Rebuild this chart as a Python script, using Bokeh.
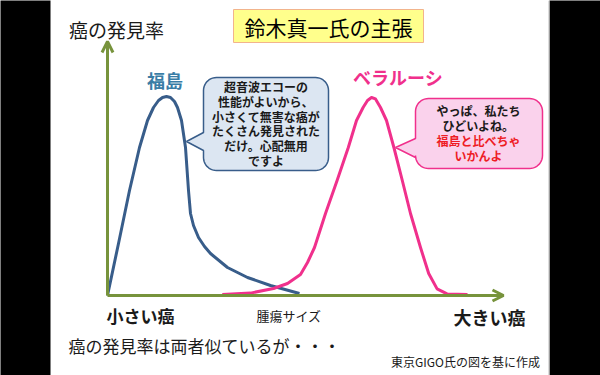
import math
from bokeh.plotting import figure
from bokeh.models import Range1d, Label, Arrow, OpenHead
from bokeh.embed import file_html
from bokeh.resources import INLINE

# ---- data (tumour size in arbitrary units, detection rate in %) ----
fukushima_size = [0.0, 0.275, 0.55, 0.8, 1.0, 1.15, 1.275, 1.375, 1.475, 1.575, 1.675,
                  1.75, 1.85, 1.95, 2.025, 2.075, 2.15, 2.275, 2.425, 2.575, 3.0, 3.5, 4.075, 4.8]
fukushima_rate = [0.0, 26.0, 52.5, 74.0, 87.5, 94.0, 97.5, 99.0, 99.5, 99.0, 97.0,
                  94.0, 87.5, 74.0, 52.5, 41.0, 35.0, 29.0, 24.5, 21.0, 14.0, 9.0, 5.0, 1.0]
belarus_size = [2.87, 3.575, 4.15, 4.5, 4.825, 5.0, 5.175, 5.45, 5.74, 6.02, 6.225, 6.39, 6.5,
                6.6, 6.7, 6.825, 6.975, 7.16, 7.37, 7.575, 7.825, 8.03, 8.24, 8.49, 9.0]
belarus_rate = [0.5, 1.2, 3.5, 6.0, 10.5, 16.5, 24.0, 41.0, 57.5, 74.0, 87.5, 94.0, 97.5,
                99.0, 98.3, 94.0, 87.5, 74.0, 57.5, 41.0, 24.0, 11.0, 3.3, 0.8, 0.5]

title_text = "鈴木真一氏の主張"
y_axis_label = "癌の発見率"
x_axis_label = "腫瘍サイズ"
x_left_label = "小さい癌"
x_right_label = "大きい癌"
series_names = ["福島", "ベラルーシ"]
left_bubble_lines = ["超音波エコーの", "性能がよいから、", "小さくて無害な癌が",
                     "たくさん発見された", "だけ。心配無用", "ですよ"]
right_bubble_lines = ["やっぱ、私たち", "ひどいよね。", "福島と比べちゃ", "いかんよ"]
right_bubble_red = [False, False, True, True]
bottom_text = "癌の発見率は両者似ているが・・・"
credit_text = "東京GIGO氏の図を基に作成"

FONT = "Noto Sans CJK JP"
BLUE = "#385D8A"
PINK = "#F0308C"
AXIS = "#77933C"


# reference-pixel -> data helpers (layout only)
def X(px):
    return (px - 107) / 40.0


def Y(py):
    return (295 - py) / 2.0


p = figure(width=600, height=375, x_range=Range1d(X(0), X(600)),
           y_range=Range1d(Y(375), Y(0)), output_backend="svg",
           toolbar_location=None, x_axis_location=None, y_axis_location=None,
           min_border=0)
p.grid.visible = False
p.outline_line_color = None
p.background_fill_color = "white"
p.border_fill_color = "white"

# black side bars
p.quad(left=[X(-5), X(549)], right=[X(50), X(605)], bottom=[Y(380)] * 2, top=[Y(-5)] * 2,
       fill_color="black", line_color=None)
p.segment(x0=[X(548.5)], y0=[Y(0)], x1=[X(548.5)], y1=[Y(375)], line_color="#bbbbbb", line_width=1)


def bubble(x0, y0, x1, y1, r, tip, ty0, ty1, n=10):
    pts = []
    def arc(cx, cy, a0, a1):
        for i in range(n + 1):
            a = math.radians(a0 + (a1 - a0) * i / n)
            pts.append((cx + r * math.cos(a), cy + r * math.sin(a)))
    arc(x1 - r, y0 + r, -90, 0)
    arc(x1 - r, y1 - r, 0, 90)
    arc(x0 + r, y1 - r, 90, 180)
    if tip is not None:
        pts.append((x0, ty1))
        pts.append(tip)
        pts.append((x0, ty0))
    arc(x0 + r, y0 + r, 180, 270)
    return [X(a) for a, b in pts], [Y(b) for a, b in pts]


# title box
p.quad(left=[X(233)], right=[X(423)], top=[Y(9)], bottom=[Y(42)],
       fill_color="#FFFF8C", line_color="#F2B48C", line_width=1)
p.add_layout(Label(x=X(328), y=Y(26.5), text=title_text, text_font=FONT, text_font_size="21px",
                   text_align="center", text_baseline="middle", text_color="black"))

# axes arrows
p.add_layout(Arrow(x_start=0, y_start=0, x_end=0, y_end=Y(41),
                   line_color=AXIS, line_width=3,
                   end=OpenHead(size=11, line_color=AXIS, line_width=3)))
p.add_layout(Arrow(x_start=0, y_start=0, x_end=X(503), y_end=0,
                   line_color=AXIS, line_width=3,
                   end=OpenHead(size=11, line_color=AXIS, line_width=3)))

# curves
p.line(fukushima_size, fukushima_rate, line_color=BLUE, line_width=3, line_join="round")
p.line(belarus_size, belarus_rate, line_color=PINK, line_width=3, line_join="round")

# speech bubbles
bx, by = bubble(203, 77, 328, 170, 13, (186, 141), 132, 150)
p.patch(bx, by, fill_color="#DCE6F2", line_color=BLUE, line_width=1.5)
bx, by = bubble(415, 98, 542, 168, 13, (395, 147), 138, 157)
p.patch(bx, by, fill_color="#FAD2EC", line_color=PINK, line_width=1.5)

for i, t in enumerate(left_bubble_lines):
    p.add_layout(Label(x=X(265.5), y=Y(86 + i * 14.8), text=t, text_font=FONT,
                       text_font_size="12px", text_font_style="bold",
                       text_align="center", text_baseline="middle", text_color="#1a1a1a"))
for i, t in enumerate(right_bubble_lines):
    p.add_layout(Label(x=X(478), y=Y(110 + i * 15), text=t, text_font=FONT,
                       text_font_size="12px", text_font_style="bold",
                       text_align="center", text_baseline="middle",
                       text_color="#EE1C24" if right_bubble_red[i] else "#1a1a1a"))

# series names
p.add_layout(Label(x=X(164.5), y=Y(79), text=series_names[0], text_font=FONT,
                   text_font_size="18px", text_font_style="bold", text_align="center",
                   text_baseline="middle", text_color="#3A7DA6"))
p.add_layout(Label(x=X(397.5), y=Y(76), text=series_names[1], text_font=FONT,
                   text_font_size="18px", text_font_style="bold", text_align="center",
                   text_baseline="middle", text_color=PINK))

# axis labels
p.add_layout(Label(x=X(116), y=Y(29), text=y_axis_label, text_font=FONT, text_font_size="19px",
                   text_align="center", text_baseline="middle", text_color="#1a1a1a"))
p.add_layout(Label(x=X(140), y=Y(315), text=x_left_label, text_font=FONT, text_font_size="17px",
                   text_font_style="bold", text_align="center", text_baseline="middle",
                   text_color="#1a1a1a"))
p.add_layout(Label(x=X(288.5), y=Y(315), text=x_axis_label, text_font=FONT, text_font_size="13px",
                   text_align="center", text_baseline="middle", text_color="#1a1a1a"))
p.add_layout(Label(x=X(489), y=Y(316), text=x_right_label, text_font=FONT, text_font_size="18px",
                   text_font_style="bold", text_align="center", text_baseline="middle",
                   text_color="#1a1a1a"))
p.add_layout(Label(x=X(68), y=Y(345), text=bottom_text, text_font=FONT, text_font_size="17px",
                   text_align="left", text_baseline="middle", text_color="#1a1a1a"))
p.add_layout(Label(x=X(465), y=Y(361), text=credit_text, text_font=FONT, text_font_size="12px",
                   text_align="center", text_baseline="middle", text_color="#1a1a1a"))

open("out.html", "w").write(file_html(p, INLINE))
